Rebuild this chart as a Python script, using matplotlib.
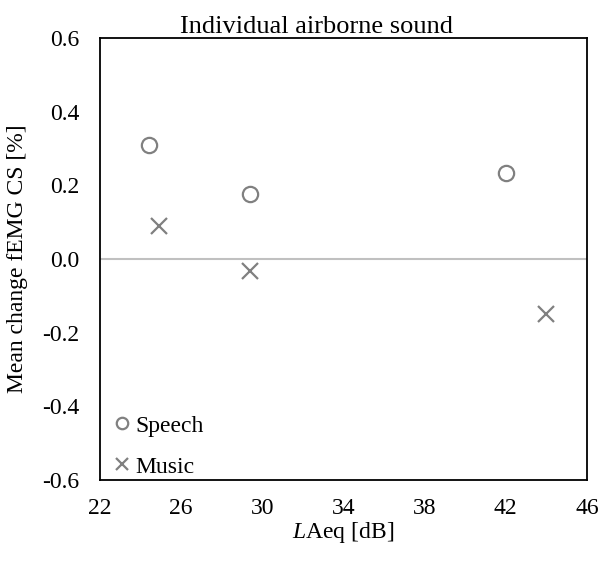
import matplotlib
matplotlib.use("Agg")
import matplotlib.pyplot as plt

# data
speech_x = [24.4, 29.4, 42.0]
speech_y = [0.31, 0.177, 0.235]
music_x = [24.9, 29.4, 44.0]
music_y = [0.09, -0.033, -0.15]

x_ticks = [22, 26, 30, 34, 38, 42, 46]
y_ticks = [-0.6, -0.4, -0.2, 0.0, 0.2, 0.4, 0.6]

plt.rcParams['font.family'] = ['Liberation Serif', 'DejaVu Serif']
plt.rcParams['mathtext.fontset'] = 'custom'
plt.rcParams['mathtext.rm'] = 'Liberation Serif'
plt.rcParams['mathtext.it'] = 'Liberation Serif:italic'

grey = '#808080'
fs = 17

fig = plt.figure(figsize=(6.02, 5.62), dpi=100)
ax = fig.add_axes([0.166, 0.146, 0.809, 0.786])

ax.axhline(0, color='#c0c0c0', lw=1.5, zorder=1)
ax.plot(speech_x, speech_y, 'o', ms=11, mfc='none', mec=grey, mew=1.6, ls='none', label='Speech', zorder=3)
ax.plot(music_x, music_y, 'x', ms=11, mec=grey, mew=1.6, ls='none', label='Music', zorder=3)

ax.set_xlim(22, 46)
ax.set_ylim(-0.6, 0.6)
ax.set_xticks(x_ticks)
ax.set_yticks(y_ticks)
ax.set_yticklabels(['%.1f' % v for v in y_ticks])
ax.tick_params(length=0, labelsize=fs)
ax.tick_params(axis='x', pad=13)
ax.tick_params(axis='y', pad=15)
for s in ax.spines.values():
    s.set_linewidth(1.3)

# title is centred on the chart area, not the plot box
ax.set_title('Individual airborne sound', fontsize=19, pad=3, x=0.444)
ax.set_xlabel(r'$L$Aeq [dB]', fontsize=fs, labelpad=1)
ax.set_ylabel('Mean change fEMG CS [%]', fontsize=fs, labelpad=10)

ax.legend(loc='lower left', frameon=False, fontsize=fs, markerscale=0.75,
          handletextpad=-0.25, handlelength=1.66, borderaxespad=0.0,
          labelspacing=0.82, borderpad=0.1)

fig.savefig('out.png', dpi=100)
